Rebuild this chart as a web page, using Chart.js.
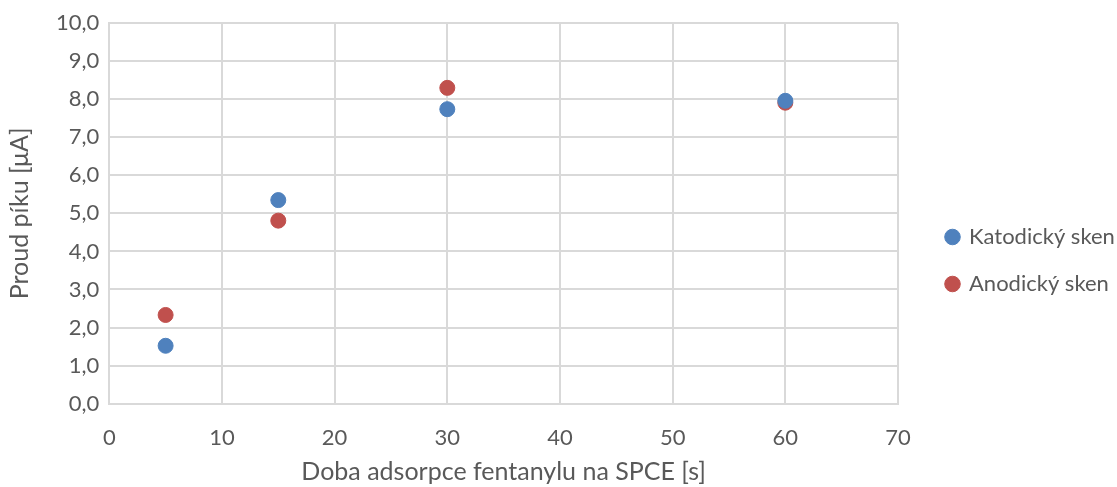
<!DOCTYPE html>
<html>
<head>
<meta charset="utf-8">
<script src="https://cdn.jsdelivr.net/npm/chart.js@4/dist/chart.umd.min.js"></script>
<style>
  html, body { margin: 0; padding: 0; background: #fff; }
  #wrap { width: 1117px; height: 487px; }
</style>
</head>
<body>
<div id="wrap"><canvas id="chart_adsorpce"></canvas></div>
<script>
var x_values = [5, 15, 30, 60];
var katodicky = [1.52, 5.35, 7.74, 7.96];
var anodicky = [2.33, 4.81, 8.30, 7.91];
var series_names = ['Katodický sken', 'Anodický sken'];
var x_title = 'Doba adsorpce fentanylu na SPCE [s]';
var y_title = 'Proud píku [μA]';

var blue = '#4F81BD';
var red = '#C0504D';
var grid_color = '#d9d9d9';
var text_color = '#595959';
var font_family = 'Lato, "Open Sans", sans-serif';

// fixed legend column, items start a bit away from the plot, a bit lower (Excel look)
var legend_width = 219;
var legend_offset = 49;
var legend_drop = 10;
var legend_pad = 25;

var legendShift = {
  id: 'legendShift',
  beforeInit: function (chart) {
    var fit = chart.legend.fit;
    chart.legend.fit = function () {
      fit.call(this);
      this.width = legend_width;
    };
  },
  afterLayout: function (chart) {
    var lg = chart.legend;
    lg.left = chart.chartArea.right + legend_offset - legend_pad;
    lg.right = lg.left + legend_width;
    lg.top += legend_drop;
    lg.bottom += legend_drop;
  }
};

function points(ys) {
  return x_values.map(function (x, i) { return { x: x, y: ys[i] }; });
}

function make_chart() {
  var ctx = document.getElementById('chart_adsorpce').getContext('2d');
  new Chart(ctx, {
    type: 'scatter',
    data: {
      datasets: [{
        label: series_names[0],
        data: points(katodicky),
        backgroundColor: blue,
        borderColor: blue,
        pointRadius: 7.5,
        pointHoverRadius: 7.5
      }, {
        label: series_names[1],
        data: points(anodicky),
        backgroundColor: red,
        borderColor: red,
        pointRadius: 7.5,
        pointHoverRadius: 7.5
      }]
    },
    plugins: [legendShift],
    options: {
      responsive: true,
      maintainAspectRatio: false,
      animation: false,
      layout: { padding: { left: 1, right: 0, top: 14, bottom: 0 } },
      plugins: {
        tooltip: { enabled: false },
        legend: {
          position: 'right',
          labels: {
            usePointStyle: true,
            pointStyle: 'circle',
            boxWidth: 11,
            boxHeight: 11,
            padding: legend_pad,
            color: text_color,
            font: { family: font_family, size: 22 }
          }
        }
      },
      scales: {
        x: {
          type: 'linear',
          min: 0,
          max: 70,
          ticks: { stepSize: 10, color: text_color, padding: 21, font: { family: font_family, size: 22 } },
          grid: { color: grid_color, lineWidth: 2, drawTicks: false },
          border: { color: grid_color, width: 2 },
          title: { display: true, text: x_title, color: text_color, padding: { top: -15, bottom: 0 }, font: { family: font_family, size: 25 } }
        },
        y: {
          min: 0,
          max: 10,
          ticks: {
            stepSize: 1,
            color: text_color,
            padding: 10,
            font: { family: font_family, size: 22 },
            callback: function (v) { return v.toFixed(1).replace('.', ','); }
          },
          grid: { color: grid_color, lineWidth: 2, drawTicks: false },
          border: { color: grid_color, width: 2 },
          title: { display: true, text: y_title, color: text_color, padding: { bottom: 11 }, font: { family: font_family, size: 25 } }
        }
      }
    }
  });
}

make_chart();
</script>
</body>
</html>
